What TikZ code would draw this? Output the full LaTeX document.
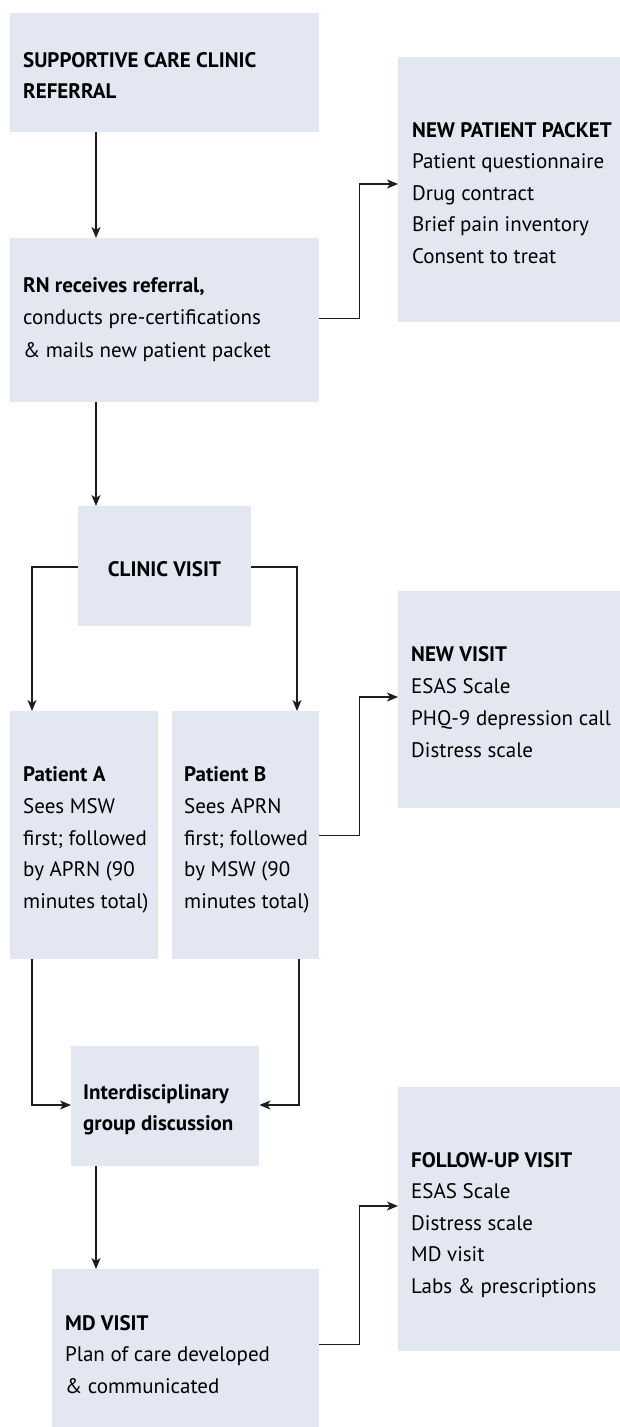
\documentclass[tikz,border=0pt]{standalone}
\usepackage{fontspec}
\setmainfont{PT Sans}
\usetikzlibrary{arrows.meta}
\definecolor{boxfill}{RGB}{227,231,241}
\definecolor{linec}{RGB}{30,30,30}
\tikzset{
  box/.style={fill=boxfill, draw=none, anchor=north west, inner sep=0pt},
  txt/.style={anchor=base west, inner sep=0pt, font=\fontsize{21}{25}\selectfont, text=black},
  ctxt/.style={anchor=base, inner sep=0pt, font=\fontsize{21}{25}\selectfont, text=black},
  conn/.style={draw=linec, line width=1.3pt, -{Stealth[length=11pt,width=9pt,inset=3pt]}},
}
\begin{document}
\begin{tikzpicture}[x=1pt,y=1pt]
\useasboundingbox (0,0) rectangle (620,-1427);
% boxes
\node[box, minimum width=309pt, minimum height=119pt] (ref) at (10,-13) {};
\node[box, minimum width=309pt, minimum height=164pt] (rn) at (10,-238) {};
\node[box, minimum width=222pt, minimum height=265pt] (npp) at (398,-57) {};
\node[box, minimum width=173pt, minimum height=120pt] (cv) at (78,-506) {};
\node[box, minimum width=222pt, minimum height=217pt] (nv) at (398,-591) {};
\node[box, minimum width=148pt, minimum height=248pt] (pa) at (10,-711) {};
\node[box, minimum width=147pt, minimum height=248pt] (pb) at (172,-711) {};
\node[box, minimum width=188pt, minimum height=120pt] (idg) at (71,-1046) {};
\node[box, minimum width=222pt, minimum height=264pt] (fu) at (398,-1087) {};
\node[box, minimum width=267pt, minimum height=158pt] (md) at (52,-1269) {};
% texts
\node[txt] (ref1) at (23,-67) {\textbf{SUPPORTIVE CARE CLINIC}};
\node[txt] (ref2) at (23,-98.5) {\textbf{REFERRAL}};
\node[txt] (rn1) at (23,-292) {\textbf{RN receives referral,}};
\node[txt] (rn2) at (23,-324.5) {conducts pre-certifications};
\node[txt] (rn3) at (23,-357) {\& mails new patient packet};
\node[txt] (npp1) at (412,-137) {\textbf{NEW PATIENT PACKET}};
\node[txt] (npp2) at (412,-168.5) {Patient questionnaire};
\node[txt] (npp3) at (412,-200) {Drug contract};
\node[txt] (npp4) at (412,-231.5) {Brief pain inventory};
\node[txt] (npp5) at (412,-263) {Consent to treat};
\node[ctxt] (cv1) at (164.5,-576) {\textbf{CLINIC VISIT}};
\node[txt] (nv1) at (411,-661) {\textbf{NEW VISIT}};
\node[txt] (nv2) at (411,-693) {ESAS Scale};
\node[txt] (nv3) at (411,-725) {PHQ-9 depression call};
\node[txt] (nv4) at (411,-757) {Distress scale};
\node[txt] (pa1) at (23,-781) {\textbf{Patient A}};
\node[txt] (pa2) at (23,-813) {Sees MSW};
\node[txt] (pa3) at (23,-845) {first; followed};
\node[txt] (pa4) at (23,-876.5) {by APRN (90};
\node[txt] (pa5) at (23,-908) {minutes total)};
\node[txt] (pb1) at (184,-781) {\textbf{Patient B}};
\node[txt] (pb2) at (184,-813) {Sees APRN};
\node[txt] (pb3) at (184,-845) {first; followed};
\node[txt] (pb4) at (184,-876.5) {by MSW (90};
\node[txt] (pb5) at (184,-908) {minutes total)};
\node[txt] (idg1) at (83,-1099) {\textbf{Interdisciplinary}};
\node[txt] (idg2) at (83,-1130.5) {\textbf{group discussion}};
\node[txt] (fu1) at (411,-1167) {\textbf{FOLLOW-UP VISIT}};
\node[txt] (fu2) at (411,-1198.5) {ESAS Scale};
\node[txt] (fu3) at (411,-1230) {Distress scale};
\node[txt] (fu4) at (411,-1261.5) {MD visit};
\node[txt] (fu5) at (411,-1293) {Labs \& prescriptions};
\node[txt] (md1) at (65,-1330) {\textbf{MD VISIT}};
\node[txt] (md2) at (65,-1361.5) {Plan of care developed};
\node[txt] (md3) at (65,-1393) {\& communicated};
% connectors
\draw[conn] ([xshift=86pt]ref.south west) -- ([xshift=86pt]rn.north west);
\draw[conn] ([yshift=84pt]rn.south east) -- ++(40,0) |- ([yshift=-127pt]npp.north west);
\draw[conn] ([xshift=86pt]rn.south west) -- ([xshift=18pt]cv.north west);
\draw[conn] ([yshift=-61pt]cv.north west) -| ([xshift=22pt]pa.north west);
\draw[conn] ([yshift=-61pt]cv.north east) -| ([xshift=125pt]pb.north west);
\draw[conn] ([yshift=124pt]pb.south east) -- ++(40,0) |- ([yshift=-106pt]nv.north west);
\draw[conn] ([xshift=22pt]pa.south west) |- ([yshift=-59pt]idg.north west);
\draw[conn] ([xshift=127pt]pb.south west) |- ([yshift=-59pt]idg.north east);
\draw[conn] ([xshift=25pt]idg.south west) -- ([xshift=44pt]md.north west);
\draw[conn] ([yshift=83pt]md.south east) -- ++(40,0) |- ([yshift=-119pt]fu.north west);
\end{tikzpicture}
\end{document}
